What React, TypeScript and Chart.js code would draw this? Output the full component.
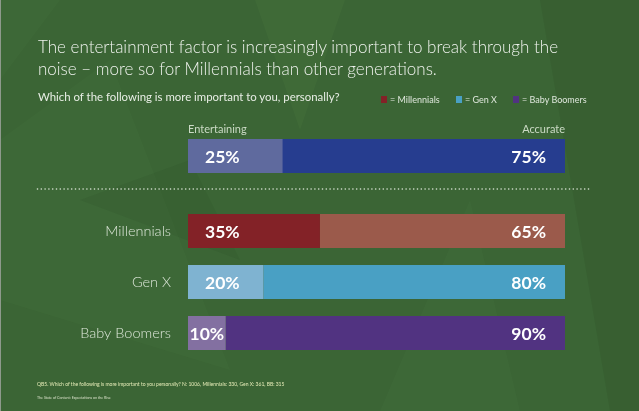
import React, { useEffect, useRef } from "react";
import { Chart, registerables } from "chart.js";

Chart.register(...registerables);

// ---- data ----
const overallLabels = ["All respondents"];
const overallEntertaining = [25];
const overallAccurate = [75];

const generations = ["Millennials", "Gen X", "Baby Boomers"];
const genEntertaining = [35, 20, 10];
const genAccurate = [65, 80, 90];

const overallColors = ["#5f6a9e", "#263d8f"];
const entColors = ["#832227", "#7fb3d1", "#8370a1"];
const accColors = ["#9b5a4b", "#49a0c4", "#513381"];

const FONT = "Lato, 'Open Sans', sans-serif";

const valueLabels = {
  id: "valueLabels",
  afterDatasetsDraw(chart: any) {
    const ctx = chart.ctx;
    ctx.save();
    ctx.font = `bold 17.5px ${FONT}`;
    ctx.fillStyle = "#ffffff";
    ctx.textBaseline = "middle";
    chart.data.datasets.forEach((ds: any, di: number) => {
      const meta = chart.getDatasetMeta(di);
      meta.data.forEach((bar: any, i: number) => {
        const text = ds.data[i] + "%";
        const w = ctx.measureText(text).width;
        const left = Math.min(bar.x, bar.base);
        const right = Math.max(bar.x, bar.base);
        if (di === 0) {
          ctx.textAlign = "left";
          const off = Math.min(17, Math.max(1, (right - left - w) / 2));
          ctx.fillText(text, left + off, bar.y + 1);
        } else {
          ctx.textAlign = "right";
          ctx.fillText(text, right - 19, bar.y + 1);
        }
      });
    });
    ctx.restore();
  },
};

const background = {
  id: "background",
  beforeDraw(chart: any) {
    const ctx = chart.ctx;
    const W = chart.width;
    const H = chart.height;
    ctx.save();
    ctx.fillStyle = "#3b6535";
    ctx.fillRect(0, 0, W, H);
    const poly = (pts: number[][], color: string) => {
      ctx.beginPath();
      ctx.moveTo(pts[0][0], pts[0][1]);
      for (let k = 1; k < pts.length; k++) ctx.lineTo(pts[k][0], pts[k][1]);
      ctx.closePath();
      ctx.fillStyle = color;
      ctx.fill();
    };
    poly([[540, 0], [639, 0], [639, 411], [610, 411]], "rgba(25,45,22,0.10)");
    poly([[255, 0], [345, 0], [300, 130]], "rgba(110,160,95,0.08)");
    poly([[0, 140], [110, 60], [230, 370], [0, 300]], "rgba(100,150,85,0.07)");
    poly([[80, 200], [190, 160], [240, 260]], "rgba(30,55,28,0.08)");
    poly([[380, 411], [470, 200], [520, 411]], "rgba(110,160,95,0.06)");
    poly([[0, 0], [60, 0], [0, 80]], "rgba(100,150,85,0.07)");
    // left border
    ctx.fillStyle = "#8e9a8c";
    ctx.fillRect(0, 0, 1, H);
    ctx.restore();
  },
  afterDraw(chart: any) {
    const ctx = chart.ctx;
    ctx.save();
    ctx.fillStyle = "#dfe8da";
    for (let x = 37.5; x <= 591; x += 3.8) {
      ctx.beginPath();
      ctx.arc(x, 189, 0.8, 0, Math.PI * 2);
      ctx.fill();
    }
    ctx.restore();
  },
};

export default function App() {
  const genRef = useRef<HTMLCanvasElement | null>(null);
  const allRef = useRef<HTMLCanvasElement | null>(null);

  useEffect(() => {
    const genChart = new Chart(genRef.current as HTMLCanvasElement, {
      type: "bar",
      data: {
        labels: generations,
        datasets: [
          { label: "Entertaining", data: genEntertaining, backgroundColor: entColors, borderWidth: 0 },
          { label: "Accurate", data: genAccurate, backgroundColor: accColors, borderWidth: 0 },
        ],
      },
      options: {
        indexAxis: "y",
        animation: false,
        responsive: true,
        maintainAspectRatio: false,
        layout: { padding: { top: 205.5, bottom: 52.5, left: 0, right: 74 } },
        datasets: { bar: { barPercentage: 34 / 51, categoryPercentage: 1 } },
        scales: {
          x: { stacked: true, min: 0, max: 100, display: false },
          y: {
            stacked: true,
            grid: { display: false, drawTicks: false },
            border: { display: false },
            ticks: {
              padding: 17,
              color: "#dce6d8",
              font: { family: FONT, size: 14.5, weight: 300 as any },
            },
            afterFit(scale: any) {
              scale.width = 188;
            },
          },
        },
        plugins: { legend: { display: false }, tooltip: { enabled: false } },
      },
      plugins: [background, valueLabels],
    } as any);

    const allChart = new Chart(allRef.current as HTMLCanvasElement, {
      type: "bar",
      data: {
        labels: overallLabels,
        datasets: [
          { label: "Entertaining", data: overallEntertaining, backgroundColor: overallColors[0], borderWidth: 0 },
          { label: "Accurate", data: overallAccurate, backgroundColor: overallColors[1], borderWidth: 0 },
        ],
      },
      options: {
        indexAxis: "y",
        animation: false,
        responsive: true,
        maintainAspectRatio: false,
        layout: { padding: { top: 139, bottom: 238, left: 188, right: 74 } },
        datasets: { bar: { barPercentage: 1, categoryPercentage: 1 } },
        scales: {
          x: { stacked: true, min: 0, max: 100, display: false },
          y: { stacked: true, display: false },
        },
        plugins: { legend: { display: false }, tooltip: { enabled: false } },
      },
      plugins: [valueLabels],
    } as any);

    return () => {
      genChart.destroy();
      allChart.destroy();
    };
  }, []);

  const layer: React.CSSProperties = { position: "absolute", left: 0, top: 0, width: 639, height: 411 };
  const txt: React.CSSProperties = { position: "absolute", fontFamily: FONT, whiteSpace: "nowrap", margin: 0 };

  const legend = [
    { color: entColors[0], label: "= Millennials", x: 381 },
    { color: accColors[1], label: "= Gen X", x: 456 },
    { color: accColors[2], label: "= Baby Boomers", x: 513 },
  ];

  return (
    <div style={{ position: "fixed", left: 0, top: 0, width: 639, height: 411, overflow: "hidden" }}>
      <div style={layer}>
        <canvas ref={genRef} />
      </div>
      <div style={layer}>
        <canvas ref={allRef} />
      </div>
      <div style={{ ...txt, left: 38, top: 36, fontSize: 17, lineHeight: "22px", fontWeight: 300, color: "#eef2ec" }}>
        The entertainment factor is increasingly important to break through the
        <br />
        noise – more so for Millennials than other generations.
      </div>
      <div style={{ ...txt, left: 38, top: 90, fontSize: 11.4, lineHeight: "14px", color: "#e8eee5" }}>
        Which of the following is more important to you, personally?
      </div>
      {legend.map((l) => (
        <div key={l.label} style={{ ...txt, left: l.x, top: 93, height: 12, display: "flex", alignItems: "center", fontSize: 9, color: "#dfe7dc" }}>
          <span style={{ display: "inline-block", width: 6, height: 7, background: l.color, marginRight: 3 }} />
          {l.label}
        </div>
      ))}
      <div style={{ ...txt, left: 188, top: 122, fontSize: 11, lineHeight: "14px", color: "#cbdac5" }}>Entertaining</div>
      <div style={{ ...txt, right: 639 - 565, top: 122, fontSize: 11, lineHeight: "14px", color: "#cbdac5" }}>Accurate</div>
      <div style={{ ...txt, left: 37, top: 381, fontSize: 5, lineHeight: "6px", color: "#e6ecb8" }}>
        QB5. Which of the following is more important to you personally? N: 1006, Millennials: 330, Gen X: 361, BB: 315
      </div>
      <div style={{ ...txt, left: 37, top: 395, fontSize: 3.6, lineHeight: "5px", color: "#d8e0c8" }}>
        The State of Content: Expectations on the Rise
      </div>
    </div>
  );
}
